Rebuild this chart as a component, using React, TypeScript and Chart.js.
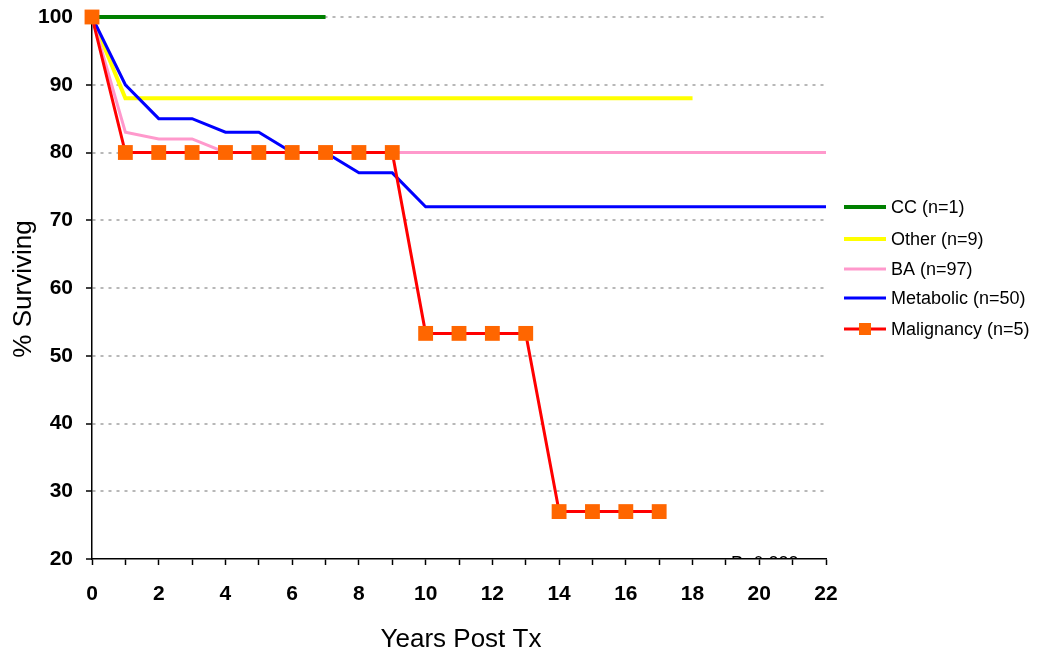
import React, { useEffect, useRef } from 'react';
import { Chart, registerables } from 'chart.js';

Chart.register(...registerables);

// ---- Data ----
const years = [0, 1, 2, 3, 4, 5, 6, 7, 8, 9, 10, 11, 12, 13, 14, 15, 16, 17, 18, 19, 20, 21, 22];
const ccValues = [100, 100, 100, 100, 100, 100, 100, 100, null, null, null, null, null, null, null, null, null, null, null, null, null, null, null];
const otherValues = [100, 88, 88, 88, 88, 88, 88, 88, 88, 88, 88, 88, 88, 88, 88, 88, 88, 88, 88, null, null, null, null];
const baValues = [100, 83, 82, 82, 80, 80, 80, 80, 80, 80, 80, 80, 80, 80, 80, 80, 80, 80, 80, 80, 80, 80, 80];
const metabolicValues = [100, 90, 85, 85, 83, 83, 80, 80, 77, 77, 72, 72, 72, 72, 72, 72, 72, 72, 72, 72, 72, 72, 72];
const malignancyValues = [100, 80, 80, 80, 80, 80, 80, 80, 80, 80, 53.3, 53.3, 53.3, 53.3, 27, 27, 27, 27, null, null, null, null, null];

const seriesNames = ['CC (n=1)', 'Other (n=9)', 'BA (n=97)', 'Metabolic (n=50)', 'Malignancy (n=5)'];
const seriesColors = ['#008000', '#FFFF00', '#FF99CC', '#0000FF', '#FF0000'];
const seriesWidths = [4, 4, 3, 3, 3];
const markerColor = '#FF6600';

const yAxisTitle = '% Surviving';
const xAxisTitle = 'Years Post Tx';
const pValueText = 'P=0.333';

const FONT = '"Liberation Sans", Arial, sans-serif';

function toPoints(vals: (number | null)[]) {
  const pts: { x: number; y: number }[] = [];
  vals.forEach((v, i) => {
    if (v !== null) pts.push({ x: years[i], y: v });
  });
  return pts;
}

const overlayPlugin = {
  id: 'overlay',
  afterDraw(chart: any) {
    const ctx = chart.ctx as CanvasRenderingContext2D;
    const area = chart.chartArea;
    ctx.save();
    // p-value text, mostly hidden below the x axis as in the reference
    ctx.save();
    ctx.beginPath();
    ctx.rect(area.left, area.top, area.right - area.left, area.bottom - area.top - 1);
    ctx.clip();
    ctx.fillStyle = '#000';
    ctx.font = `18px ${FONT}`;
    ctx.textAlign = 'left';
    ctx.textBaseline = 'alphabetic';
    ctx.fillText(pValueText, 731, 569);
    ctx.restore();

    // axis titles
    ctx.fillStyle = '#000';
    ctx.font = `26px ${FONT}`;
    ctx.textAlign = 'center';
    ctx.textBaseline = 'alphabetic';
    ctx.fillText(xAxisTitle, 461, 647);
    ctx.save();
    ctx.translate(31, 289);
    ctx.rotate(-Math.PI / 2);
    ctx.fillText(yAxisTitle, 0, 0);
    ctx.restore();

    // legend
    const rowsY = [207, 239, 269, 298, 329];
    ctx.font = `18px ${FONT}`;
    ctx.textAlign = 'left';
    ctx.textBaseline = 'middle';
    seriesNames.forEach((name, i) => {
      const y = rowsY[i];
      ctx.strokeStyle = seriesColors[i];
      ctx.lineWidth = seriesWidths[i];
      ctx.beginPath();
      ctx.moveTo(844, y);
      ctx.lineTo(886, y);
      ctx.stroke();
      if (i === 4) {
        ctx.fillStyle = markerColor;
        ctx.fillRect(865 - 6, y - 6, 12, 12);
      }
      ctx.fillStyle = '#000';
      ctx.fillText(name, 891, y + 1);
    });
    ctx.restore();
  },
};

export default function App() {
  const canvasRef = useRef<HTMLCanvasElement | null>(null);

  useEffect(() => {
    const canvas = canvasRef.current;
    if (!canvas) return;
    const allValues = [ccValues, otherValues, baValues, metabolicValues, malignancyValues];
    // draw order: first dataset on top
    const order = [4, 3, 2, 1, 0];
    const datasets = order.map((i) => ({
      label: seriesNames[i],
      data: toPoints(allValues[i]),
      borderColor: seriesColors[i],
      backgroundColor: seriesColors[i],
      borderWidth: seriesWidths[i],
      tension: 0,
      fill: false,
      pointStyle: 'rect' as const,
      pointRadius: i === 4 ? 10.5 : 0,
      pointHoverRadius: i === 4 ? 10.5 : 0,
      pointBackgroundColor: markerColor,
      pointBorderColor: markerColor,
      pointBorderWidth: 0,
      clip: false as any,
    }));

    const chart = new Chart(canvas, {
      type: 'line',
      data: { datasets },
      plugins: [overlayPlugin],
      options: {
        responsive: false,
        animation: false,
        devicePixelRatio: 1,
        layout: { padding: { top: 17, right: 212, left: 0, bottom: 0 } },
        plugins: {
          legend: { display: false },
          tooltip: { enabled: false },
          title: { display: false },
        },
        scales: {
          x: {
            type: 'linear',
            min: 0,
            max: 22,
            afterFit: (scale: any) => {
              scale.height = 95;
              scale.paddingLeft = 0;
              scale.paddingRight = 0;
            },
            ticks: {
              stepSize: 1,
              autoSkip: false,
              maxRotation: 0,
              minRotation: 0,
              padding: 17,
              color: '#000',
              font: { family: FONT, size: 21, weight: 'bold' },
              callback: (v: any) => (Number(v) % 2 === 0 ? String(v) : ''),
            },
            grid: {
              drawOnChartArea: false,
              drawTicks: true,
              tickLength: 6,
              tickColor: '#000',
              tickWidth: 1.5,
              color: '#000',
            },
            border: { display: true, color: '#000', width: 1.5 },
          },
          y: {
            type: 'linear',
            min: 20,
            max: 100,
            afterFit: (scale: any) => {
              scale.width = 92;
              scale.paddingTop = 0;
              scale.paddingBottom = 0;
            },
            ticks: {
              stepSize: 10,
              padding: 13,
              color: '#000',
              font: { family: FONT, size: 21, weight: 'bold' },
            },
            grid: {
              drawOnChartArea: true,
              drawTicks: true,
              tickLength: 6,
              tickColor: '#000',
              tickWidth: 1.5,
              tickBorderDash: [],
              lineWidth: 2,
              color: (c: any) => (c.tick && c.tick.value === 20 ? 'rgba(0,0,0,0)' : '#b8b8b8'),
            },
            border: { display: true, color: '#000', width: 1.5, dash: [3, 5] },
          },
        },
      },
    });
    return () => chart.destroy();
  }, []);

  return (
    <div style={{ position: 'fixed', left: 0, top: 0, width: 1038, height: 654, background: '#fff' }}>
      <canvas ref={canvasRef} width={1038} height={654} style={{ display: 'block', width: 1038, height: 654 }} />
    </div>
  );
}
